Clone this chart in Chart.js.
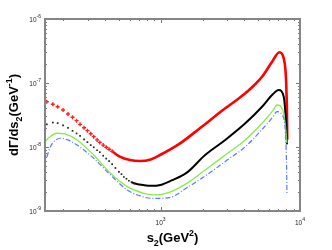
<!DOCTYPE html>
<html><head><meta charset="utf-8">
<script src="https://cdn.jsdelivr.net/npm/chart.js@4"></script>
<style>html,body{margin:0;padding:0;background:#fff}#wrap{width:332px;height:250px;position:relative}</style>
</head><body><div id="wrap"><canvas id="c" width="332" height="250"></canvas></div>
<script>
// ---- data (s2 in GeV^2, dGamma/ds2 in GeV^-1) ----
const redS   = [153,169,183,200,217,234,250,265,283,299,316,332,351,367,388,408,428,450,511,603,712,850,992,1381,1924,2911,3436,4054,4667,5346,6310,7120,7647,7866,7960,8010,8050,8080,8100];
const redV   = [5.10e-8,4.65e-8,4.26e-8,3.79e-8,3.28e-8,2.91e-8,2.58e-8,2.26e-8,2.00e-8,1.80e-8,1.61e-8,1.45e-8,1.29e-8,1.18e-8,1.07e-8,9.9e-9,9.2e-9,8.57e-9,7.05e-9,6.26e-9,6.04e-9,6.4e-9,7.5e-9,1.14e-8,1.98e-8,4.02e-8,5.23e-8,6.90e-8,9.14e-8,1.25e-7,2.15e-7,3.02e-7,2.43e-7,1.60e-7,1.0e-7,6.5e-8,4.3e-8,2.5e-8,1.3e-8];

const blackS = [153,169,183,200,217,234,250,265,283,299,316,332,351,367,388,408,428,450,475,503,525,546,570,593,620,645,700,850,1000,1200,1543,2089,2911,4054,5346,6310,7039,7647,7866,7997,8060];
const blackV = [2.26e-8,2.41e-8,2.36e-8,2.18e-8,1.99e-8,1.79e-8,1.63e-8,1.49e-8,1.32e-8,1.19e-8,1.07e-8,9.9e-9,8.9e-9,8.3e-9,7.3e-9,6.6e-9,6.0e-9,5.4e-9,4.7e-9,4.1e-9,3.76e-9,3.4e-9,3.19e-9,2.97e-9,2.82e-9,2.71e-9,2.6e-9,2.47e-9,2.55e-9,3.0e-9,3.97e-9,7.50e-9,1.29e-8,2.35e-8,4.26e-8,6.49e-8,7.77e-8,6.11e-8,3.36e-8,1.84e-8,1.1e-8];

const greenS = [148,160,181,206,252,332,438,577,761,913,1170,1543,2089,2911,4054,5346,6310,6855,7520,7866,8050];
const greenV = [1.20e-8,1.43e-8,1.64e-8,1.60e-8,1.29e-8,7.50e-9,3.88e-9,2.40e-9,1.89e-9,1.78e-9,1.98e-9,2.7e-9,4.37e-9,7.50e-9,1.29e-8,2.35e-8,3.56e-8,4.53e-8,3.78e-8,2.08e-8,1.15e-8];

const blueS  = [153,162,174,191,216,252,332,438,577,761,913,1170,1543,2089,2911,4054,5346,6310,6855,7447,7866,7997,8060];
const blueV  = [6.98e-9,1.0e-8,1.24e-8,1.37e-8,1.29e-8,1.07e-8,6.66e-9,3.65e-9,2.13e-9,1.65e-9,1.57e-9,1.63e-9,2.3e-9,3.52e-9,5.93e-9,1.01e-8,1.88e-8,2.84e-8,3.56e-8,3.16e-8,1.66e-8,6.26e-9,1.91e-9];

const xTickValues = [1000, 10000];
const xTickExps   = ['3', '4'];
const yTickValues = [1e-9, 1e-8, 1e-7, 1e-6];
const yTickExps   = ['-9', '-8', '-7', '-6'];
const xTitle = ['s', '2', '(GeV', '2', ')'];
const yTitle = ['d\u0393/ds', '2', '(GeV', '-1', ')'];

const pts = (xs, ys) => xs.map((s, i) => ({x: s, y: ys[i]}));
const FONT = '"Liberation Sans", Arial, Helvetica, sans-serif';
const HIDE = 'rgba(0,0,0,0)';

const framePlugin = {
  id: 'frame',
  afterDraw(chart) {
    const {ctx, chartArea: a, scales: {x, y}} = chart;
    ctx.save();
    const ln = (x1, y1, x2, y2) => { ctx.beginPath(); ctx.moveTo(x1, y1); ctx.lineTo(x2, y2); ctx.stroke(); };
    ctx.strokeStyle = '#777'; ctx.lineWidth = 1;
    for (let e = -9; e <= -6; e++) {
      for (let m = 1; m < 10; m++) {
        const v = m * Math.pow(10, e);
        if (v > 1.0001e-6) break;
        const py = Math.round(y.getPixelForValue(v)) + 0.5;
        const L = m === 1 ? 4 : 2;
        ln(a.left, py, a.left + L, py); ln(a.right, py, a.right - L, py);
      }
    }
    for (let e = 2; e <= 4; e++) {
      for (let m = 1; m < 10; m++) {
        const v = m * Math.pow(10, e);
        if (v < x.min || v > x.max * 1.0001) continue;
        const px = Math.round(x.getPixelForValue(v)) + 0.5;
        const L = m === 1 ? 4 : 2;
        ln(px, a.bottom, px, a.bottom - L); ln(px, a.top, px, a.top + L);
      }
    }
    ctx.strokeStyle = '#858585'; ctx.lineWidth = 2;
    ctx.strokeRect(a.left, a.top, a.right - a.left, a.bottom - a.top);

    ctx.fillStyle = '#222'; ctx.textBaseline = 'alphabetic';
    const big = '6.5px ' + FONT, small = '5px ' + FONT;
    yTickValues.forEach((v, i) => {
      const py = y.getPixelForValue(v);
      ctx.font = small; const w2 = ctx.measureText(yTickExps[i]).width;
      ctx.font = big; const w1 = ctx.measureText('10').width;
      const right = a.left - 4;
      ctx.textAlign = 'left';
      ctx.fillText('10', right - w2 - w1, py + 2.5);
      ctx.font = small; ctx.fillText(yTickExps[i], right - w2, py - 1.5);
    });
    xTickValues.forEach((v, i) => {
      const px = x.getPixelForValue(v);
      ctx.font = small; const w2 = ctx.measureText(xTickExps[i]).width;
      ctx.font = big; const w1 = ctx.measureText('10').width;
      const left = px - (w1 + w2) / 2;
      ctx.textAlign = 'left';
      ctx.fillText('10', left, a.bottom + 14);
      ctx.font = small; ctx.fillText(xTickExps[i], left + w1, a.bottom + 10);
    });

    const drawTitle = (parts, size) => {
      const sz = [size, size * 0.68, size, size * 0.68, size];
      const dy = [0, size * 0.3, 0, -size * 0.45, 0];
      let total = 0; const ws = [];
      parts.forEach((t, i) => { ctx.font = 'bold ' + sz[i] + 'px ' + FONT; const w = ctx.measureText(t).width; ws.push(w); total += w; });
      let cx = -total / 2;
      parts.forEach((t, i) => { ctx.font = 'bold ' + sz[i] + 'px ' + FONT; ctx.fillText(t, cx, dy[i]); cx += ws[i]; });
    };
    ctx.fillStyle = '#000'; ctx.textAlign = 'left';
    ctx.save(); ctx.translate((a.left + a.right) / 2, 242); drawTitle(xTitle, 13); ctx.restore();
    ctx.save(); ctx.translate(18, (a.top + a.bottom) / 2); ctx.rotate(-Math.PI / 2); drawTitle(yTitle, 13); ctx.restore();
    ctx.restore();
  }
};

new Chart(document.getElementById('c'), {
  type: 'scatter',
  data: {
    datasets: [
      { data: pts(blueS, blueV), showLine: true, borderColor: '#5a78ff', borderWidth: 1.2,
        borderDash: [5, 2, 1, 2], pointRadius: 0, cubicInterpolationMode: 'monotone' },
      { data: pts(greenS, greenV), showLine: true, borderColor: '#86ec4a', borderWidth: 1.3,
        pointRadius: 0, cubicInterpolationMode: 'monotone' },
      { data: pts(blackS, blackV), showLine: true, borderColor: '#000', borderWidth: 2,
        cubicInterpolationMode: 'monotone',
        segment: { borderColor: c => c.p1.parsed.x <= 620 ? HIDE : undefined },
        pointStyle: 'rect', pointBackgroundColor: '#222', pointBorderWidth: 0,
        pointRadius: c => (c.raw && c.raw.x <= 645) ? 1.2 : 0 },
      { data: pts(redS, redV), showLine: true, borderColor: '#ff0000', borderWidth: 2.6,
        cubicInterpolationMode: 'monotone',
        segment: { borderColor: c => c.p1.parsed.x <= 450 ? HIDE : undefined },
        pointStyle: 'cross', pointBorderColor: '#ff2020', pointBorderWidth: 1.4,
        pointRadius: c => (c.raw && c.raw.x <= 450) ? 2 : 0 }
    ]
  },
  options: {
    responsive: false, animation: false, devicePixelRatio: 1,
    layout: { padding: { left: 45, right: 32, top: 19, bottom: 39 } },
    plugins: { legend: { display: false }, tooltip: { enabled: false } },
    scales: {
      x: { type: 'logarithmic', min: 148.5, max: 10000, display: false },
      y: { type: 'logarithmic', min: 1e-9, max: 1e-6, display: false }
    }
  },
  plugins: [framePlugin]
});
</script>
</body></html>
